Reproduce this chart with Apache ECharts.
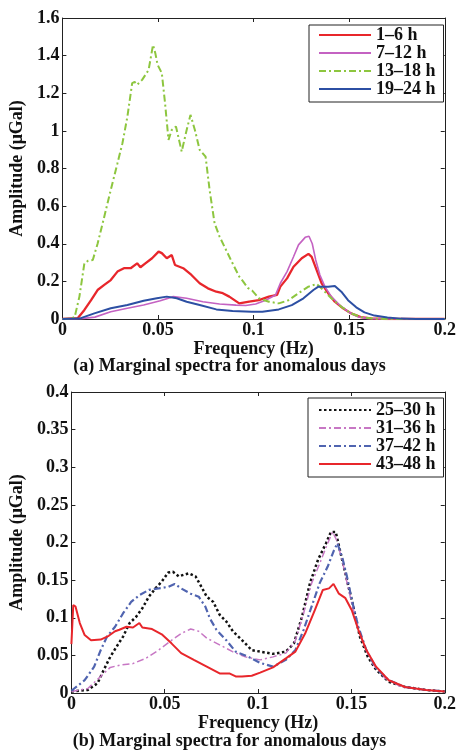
<!DOCTYPE html>
<html>
<head>
<meta charset="utf-8">
<script src="https://cdn.jsdelivr.net/npm/echarts@6/dist/echarts.min.js"></script>
<style>
html,body{margin:0;padding:0;background:#fff;}
#c{width:459px;height:751px;}
</style>
</head>
<body>
<div id="c"></div>
<script>
// ---------- data (frequency in Hz, amplitude in μGal) ----------
const xTicks = { min: 0, max: 0.2, interval: 0.05 };
const topY = { min: 0, max: 1.6, interval: 0.2 };
const botY = { min: 0, max: 0.4, interval: 0.05 };

const topNames = ['1–6 h', '7–12 h', '13–18 h', '19–24 h'];
const botNames = ['25–30 h', '31–36 h', '37–42 h', '43–48 h'];

const h1_6 = [[0,0],[0.0081,0.005],[0.0115,0.048],[0.015,0.10],[0.0184,0.154],[0.0219,0.181],[0.0253,0.207],[0.0288,0.252],[0.0322,0.27],[0.0357,0.27],[0.0391,0.296],[0.0408,0.275],[0.0434,0.296],[0.0469,0.323],[0.0503,0.358],[0.052,0.35],[0.0546,0.323],[0.0572,0.34],[0.0589,0.287],[0.0632,0.27],[0.0675,0.234],[0.0718,0.19],[0.0761,0.163],[0.0805,0.145],[0.0839,0.137],[0.0873,0.119],[0.0925,0.083],[0.0977,0.092],[0.1028,0.10],[0.108,0.119],[0.1123,0.128],[0.114,0.172],[0.1175,0.216],[0.1209,0.278],[0.1252,0.323],[0.1287,0.346],[0.1304,0.33],[0.133,0.26],[0.1356,0.19],[0.139,0.137],[0.1425,0.092],[0.1468,0.057],[0.151,0.03],[0.156,0.01],[0.1615,0.003],[0.17,0],[0.2,0]];
const h7_12 = [[0,0],[0.01,0.002],[0.017,0.01],[0.0253,0.039],[0.034,0.057],[0.0425,0.074],[0.0512,0.097],[0.058,0.119],[0.065,0.11],[0.0735,0.092],[0.0822,0.08],[0.0908,0.074],[0.0959,0.072],[0.1011,0.08],[0.1063,0.10],[0.1115,0.128],[0.114,0.19],[0.1175,0.252],[0.1209,0.331],[0.1235,0.394],[0.127,0.434],[0.129,0.44],[0.1307,0.40],[0.1325,0.314],[0.1347,0.234],[0.1373,0.172],[0.1407,0.119],[0.145,0.074],[0.1493,0.04],[0.1545,0.012],[0.16,0.002],[0.17,0],[0.2,0]];
const h13_18 = [[0,0],[0.004,0.002],[0.0064,0.01],[0.0089,0.119],[0.0115,0.296],[0.0135,0.31],[0.0159,0.314],[0.0184,0.40],[0.0219,0.544],[0.0253,0.686],[0.0288,0.828],[0.0314,0.934],[0.034,1.076],[0.0365,1.254],[0.0378,1.26],[0.0391,1.245],[0.0417,1.271],[0.0451,1.324],[0.0474,1.457],[0.0486,1.413],[0.0498,1.351],[0.052,1.307],[0.0537,1.147],[0.0555,0.952],[0.0572,1.005],[0.0594,1.023],[0.0606,0.97],[0.0624,0.89],[0.065,1.005],[0.067,1.085],[0.0693,1.005],[0.0718,0.899],[0.0749,0.863],[0.077,0.686],[0.0796,0.509],[0.0822,0.438],[0.0856,0.367],[0.089,0.296],[0.0925,0.225],[0.0945,0.2],[0.097,0.165],[0.0994,0.15],[0.1028,0.11],[0.108,0.092],[0.1132,0.083],[0.1183,0.10],[0.1235,0.137],[0.1287,0.172],[0.133,0.186],[0.1364,0.154],[0.1407,0.11],[0.1459,0.065],[0.151,0.03],[0.1562,0.01],[0.163,0.002],[0.17,0],[0.2,0]];
const h19_24 = [[0,0],[0.0089,0.002],[0.0167,0.03],[0.0253,0.057],[0.034,0.074],[0.0425,0.097],[0.0494,0.11],[0.0546,0.119],[0.0598,0.11],[0.065,0.092],[0.0718,0.074],[0.0805,0.051],[0.089,0.042],[0.099,0.039],[0.1046,0.039],[0.1132,0.051],[0.12,0.074],[0.1261,0.11],[0.1313,0.154],[0.1339,0.172],[0.139,0.172],[0.1425,0.176],[0.1459,0.145],[0.1494,0.10],[0.1537,0.062],[0.158,0.035],[0.1632,0.018],[0.17,0.008],[0.177,0.002],[0.185,0],[0.2,0]];

const h25_30 = [[0,0.002],[0.0088,0.004],[0.014,0.013],[0.0174,0.031],[0.0208,0.048],[0.0243,0.062],[0.0277,0.075],[0.0312,0.093],[0.0346,0.101],[0.0381,0.113],[0.0415,0.128],[0.045,0.139],[0.0484,0.148],[0.0518,0.16],[0.0544,0.161],[0.0575,0.155],[0.06,0.157],[0.063,0.159],[0.0665,0.155],[0.069,0.144],[0.0725,0.128],[0.076,0.121],[0.0794,0.104],[0.083,0.095],[0.0865,0.082],[0.0915,0.070],[0.0966,0.057],[0.1011,0.055],[0.108,0.052],[0.1149,0.055],[0.1192,0.066],[0.1235,0.101],[0.1278,0.146],[0.1321,0.177],[0.1364,0.199],[0.139,0.214],[0.1416,0.214],[0.1442,0.186],[0.1476,0.15],[0.151,0.115],[0.1545,0.075],[0.1588,0.048],[0.1632,0.031],[0.17,0.015],[0.1787,0.008],[0.19,0.004],[0.2,0.002]];
const h31_36 = [[0,0.002],[0.0088,0.006],[0.0157,0.022],[0.0208,0.034],[0.026,0.037],[0.0329,0.039],[0.0398,0.046],[0.0467,0.057],[0.0536,0.070],[0.0588,0.079],[0.0639,0.085],[0.0682,0.082],[0.0725,0.073],[0.0794,0.064],[0.0863,0.055],[0.0932,0.048],[0.1011,0.044],[0.108,0.048],[0.1149,0.053],[0.12,0.070],[0.1244,0.106],[0.1287,0.146],[0.133,0.172],[0.1373,0.199],[0.1399,0.214],[0.1421,0.203],[0.145,0.177],[0.1485,0.137],[0.152,0.101],[0.1562,0.066],[0.1614,0.039],[0.1683,0.019],[0.177,0.008],[0.19,0.004],[0.2,0.002]];
const h37_42 = [[0,0.003],[0.0071,0.017],[0.0122,0.035],[0.0157,0.057],[0.0191,0.075],[0.0234,0.088],[0.0277,0.106],[0.032,0.121],[0.0364,0.13],[0.0415,0.137],[0.0467,0.139],[0.0518,0.141],[0.0553,0.145],[0.0588,0.139],[0.0639,0.132],[0.0682,0.128],[0.0717,0.115],[0.0742,0.099],[0.0777,0.084],[0.083,0.070],[0.088,0.055],[0.0949,0.048],[0.1011,0.040],[0.108,0.035],[0.1149,0.044],[0.12,0.057],[0.1244,0.084],[0.1287,0.115],[0.133,0.146],[0.1373,0.168],[0.1407,0.19],[0.1425,0.199],[0.145,0.181],[0.1476,0.155],[0.1502,0.124],[0.1537,0.088],[0.158,0.057],[0.1632,0.033],[0.17,0.017],[0.1787,0.008],[0.19,0.004],[0.2,0.002]];
const h43_48 = [[0,0.065],[0.001,0.117],[0.0022,0.115],[0.0045,0.093],[0.0071,0.077],[0.0105,0.070],[0.0157,0.071],[0.02,0.076],[0.0234,0.082],[0.0257,0.084],[0.0295,0.088],[0.033,0.087],[0.0364,0.093],[0.038,0.087],[0.0432,0.085],[0.0484,0.078],[0.0536,0.066],[0.0588,0.053],[0.0656,0.044],[0.0725,0.035],[0.0794,0.026],[0.0846,0.026],[0.088,0.022],[0.0914,0.022],[0.0966,0.023],[0.1011,0.027],[0.108,0.034],[0.1149,0.046],[0.12,0.055],[0.1252,0.079],[0.1304,0.11],[0.1347,0.137],[0.138,0.139],[0.1404,0.145],[0.1433,0.132],[0.1468,0.126],[0.1502,0.11],[0.1537,0.084],[0.158,0.057],[0.1632,0.035],[0.17,0.017],[0.1787,0.008],[0.19,0.004],[0.2,0.002]];

const captions = ['(a) Marginal spectra for anomalous days', '(b) Marginal spectra for anomalous days'];
const xName = 'Frequency (Hz)';
const yName = 'Amplitude (μGal)';

// ---------- styling ----------
const FONT = '"Liberation Serif", "Times New Roman", serif';
const AX = '#222';
const txt = { fontFamily: FONT, fontSize: 18, fontWeight: 'bold', color: '#111' };

function xAx(gi, top) {
  return {
    type: 'value', gridIndex: gi, position: top ? 'top' : 'bottom',
    min: xTicks.min, max: xTicks.max, interval: xTicks.interval,
    name: top ? '' : xName, nameLocation: 'middle', nameGap: 16,
    nameTextStyle: Object.assign({}, txt, { lineHeight: 18 }),
    axisLine: { show: true, onZero: false, lineStyle: { color: AX, width: 1 } },
    axisTick: { show: true, inside: true, length: 4, lineStyle: { color: AX } },
    axisLabel: { show: !top, margin: 2, ...txt },
    splitLine: { show: false }
  };
}
function yAx(gi, right, cfg) {
  return {
    type: 'value', gridIndex: gi, position: right ? 'right' : 'left',
    min: cfg.min, max: cfg.max, interval: cfg.interval,
    name: right ? '' : yName, nameLocation: 'middle', nameGap: 26, nameRotate: 90,
    nameTextStyle: Object.assign({}, txt),
    axisLine: { show: true, onZero: false, lineStyle: { color: AX, width: 1 } },
    axisTick: { show: true, inside: true, length: 4, lineStyle: { color: AX } },
    axisLabel: { show: !right, margin: 3, ...txt },
    splitLine: { show: false }
  };
}
function ser(name, data, axi, color, width, type) {
  return {
    name, type: 'line', data, xAxisIndex: axi, yAxisIndex: axi,
    symbol: 'none', smooth: false, animation: false,
    lineStyle: { color, width, type: type || 'solid', cap: 'butt' },
    itemStyle: { color }
  };
}
const DASHDOT = [7, 3, 2, 3];
const HIDDEN_SYMBOL = { color: 'rgba(0,0,0,0)', borderColor: 'rgba(0,0,0,0)', borderWidth: 0 };

const option = {
  backgroundColor: '#fff',
  animation: false,
  title: [
    { text: captions[0], left: 'center', top: 357, padding: 0, textStyle: Object.assign({}, txt, { lineHeight: 18 }) },
    { text: captions[1], left: 'center', top: 732, padding: 0, textStyle: Object.assign({}, txt, { lineHeight: 18 }) }
  ],
  grid: [
    { left: 61, top: 18, width: 387, height: 301 },
    { left: 61, top: 392, width: 387, height: 301 }
  ],
  xAxis: [xAx(0, false), xAx(1, false), xAx(0, true), xAx(1, true)],
  yAxis: [yAx(0, false, topY), yAx(1, false, botY), yAx(0, true, topY), yAx(1, true, botY)],
  legend: [
    {
      data: topNames, orient: 'vertical', left: 309, top: 25,
      padding: [1, 8, 4, 9], itemGap: 0, itemWidth: 52, itemHeight: 17.5,
      borderColor: AX, borderWidth: 1, backgroundColor: '#fff',
      itemStyle: HIDDEN_SYMBOL,
      textStyle: Object.assign({}, txt, { lineHeight: 17.5 }), selectedMode: false
    },
    {
      data: botNames, orient: 'vertical', left: 308, top: 398,
      padding: [3, 8, 4, 10], itemGap: 0, itemWidth: 52, itemHeight: 17,
      borderColor: AX, borderWidth: 1, backgroundColor: '#fff',
      itemStyle: HIDDEN_SYMBOL,
      textStyle: Object.assign({}, txt, { lineHeight: 17 }), selectedMode: false
    }
  ],
  series: [
    ser(topNames[0], h1_6, 0, '#e8262b', 2.3),
    ser(topNames[1], h7_12, 0, '#c462c2', 1.6),
    ser(topNames[2], h13_18, 0, '#8dc63f', 2, DASHDOT),
    ser(topNames[3], h19_24, 0, '#2c4fa3', 2),
    ser(botNames[0], h25_30, 1, '#111111', 2.5, [2.5, 2.5]),
    ser(botNames[1], h31_36, 1, '#c777c4', 1.5, DASHDOT),
    ser(botNames[2], h37_42, 1, '#5064b0', 2.2, DASHDOT),
    ser(botNames[3], h43_48, 1, '#e8262b', 2)
  ]
};

const chart = echarts.init(document.getElementById('c'), null, { renderer: 'canvas' });
chart.setOption(option);
</script>
</body>
</html>
